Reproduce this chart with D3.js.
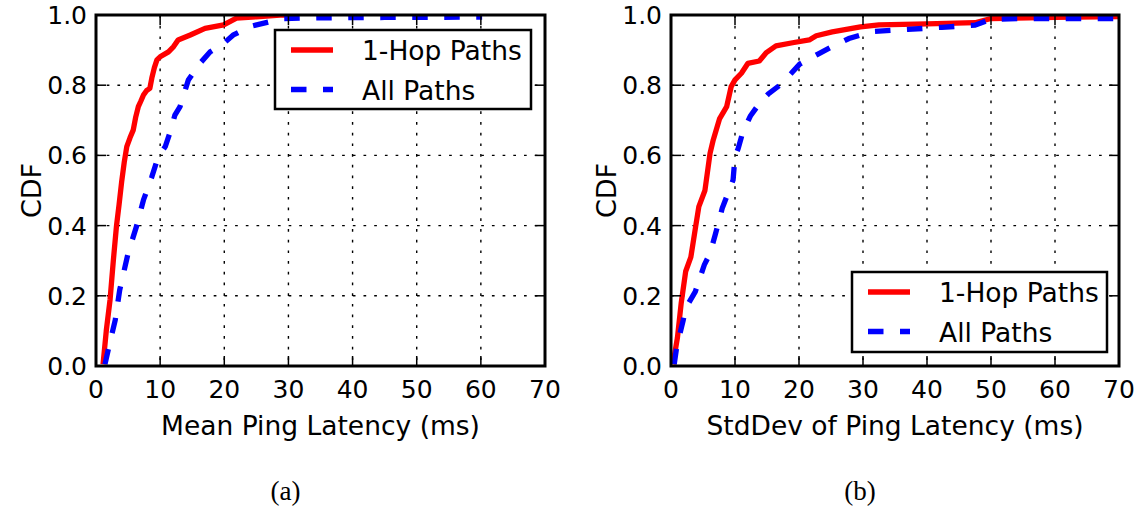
<!DOCTYPE html>
<html><head><meta charset="utf-8">
<script src="https://cdn.jsdelivr.net/npm/d3@7"></script>
<style>body{margin:0;background:#fff;} svg{display:block;}</style>
</head><body>
<svg id="c" width="1147" height="507"></svg>
<script>
// ---- data ----
const xTicks = [0, 10, 20, 30, 40, 50, 60, 70];
const yTicks = [0.0, 0.2, 0.4, 0.6, 0.8, 1.0];
const seriesNames = ["1-Hop Paths", "All Paths"];
const panelLabels = ["(a)", "(b)"];
const xLabels = ["Mean Ping Latency (ms)", "StdDev of Ping Latency (ms)"];

// (a) mean latency CDFs
const meanHopX = [1.1, 1.6, 2.2, 2.7, 3.2, 3.6, 4.0, 4.4, 4.8, 5.3, 5.8, 6.2, 6.6, 7.0, 7.4, 7.9, 8.4, 8.7, 9.1, 9.5, 10.0, 11.3, 12.1, 12.8, 14.7, 17.0, 19.9, 21.9, 25.0, 28.7, 29.5];
const meanHopY = [0.005, 0.10, 0.19, 0.30, 0.40, 0.46, 0.525, 0.58, 0.625, 0.65, 0.672, 0.71, 0.739, 0.755, 0.772, 0.785, 0.791, 0.820, 0.85, 0.872, 0.881, 0.895, 0.91, 0.929, 0.943, 0.962, 0.972, 0.991, 0.995, 1.0, 1.0];
const meanAllX = [1.4, 2.2, 3.0, 3.7, 5.0, 6.3, 7.4, 8.7, 9.7, 10.8, 11.5, 12.3, 13.1, 14.4, 16.2, 17.8, 19.9, 21.4, 24.0, 27.1, 29.2, 35.0, 45.0, 60.2];
const meanAllY = [0.005, 0.07, 0.131, 0.217, 0.321, 0.397, 0.473, 0.539, 0.596, 0.625, 0.663, 0.715, 0.739, 0.815, 0.862, 0.895, 0.919, 0.943, 0.967, 0.981, 0.99, 0.992, 0.993, 0.994];

// (b) stddev latency CDFs
const sdHopX = [0.3, 1.0, 1.6, 2.3, 3.1, 3.85, 4.35, 5.3, 6.1, 6.6, 7.6, 8.7, 9.4, 10.0, 11.0, 12.0, 13.8, 14.9, 16.4, 19.0, 21.6, 22.7, 25.2, 29.6, 32.5, 40.0, 47.5, 50.0, 60.0, 71.0];
const sdHopY = [0.005, 0.08, 0.18, 0.27, 0.31, 0.397, 0.454, 0.50, 0.606, 0.644, 0.705, 0.739, 0.796, 0.815, 0.834, 0.862, 0.869, 0.893, 0.912, 0.921, 0.929, 0.941, 0.952, 0.966, 0.972, 0.975, 0.978, 0.99, 0.993, 0.996];
const sdAllX = [0.5, 0.9, 1.9, 2.3, 3.8, 5.2, 6.1, 6.9, 8.0, 8.9, 9.7, 10.0, 10.5, 11.2, 12.4, 13.8, 15.2, 17.0, 18.8, 20.1, 22.9, 25.2, 27.8, 31.5, 37.0, 42.3, 47.5, 50.0, 55.0, 71.0];
const sdAllY = [0.005, 0.055, 0.13, 0.165, 0.212, 0.288, 0.321, 0.373, 0.449, 0.492, 0.53, 0.596, 0.62, 0.665, 0.712, 0.748, 0.775, 0.80, 0.834, 0.86, 0.888, 0.91, 0.933, 0.953, 0.959, 0.965, 0.971, 0.988, 0.99, 0.99];

const panels = [
  {left: 96, right: 545, hopX: meanHopX, hopY: meanHopY, allX: meanAllX, allY: meanAllY,
   legend: {x: 275, y: 30, w: 256, h: 79}, label: panelLabels[0], xlabel: xLabels[0]},
  {left: 671, right: 1119, hopX: sdHopX, hopY: sdHopY, allX: sdAllX, allY: sdAllY,
   legend: {x: 852, y: 272, w: 255, h: 80}, label: panelLabels[1], xlabel: xLabels[1]}
];
const plotTop = 15, plotBottom = 366;
const RED = "#ff0000", BLUE = "#0000ff";
const font = "'DejaVu Sans', sans-serif";
const DASH = "15.5,16.5";

const svg = d3.select("#c");

panels.forEach((p, i) => {
  const x = d3.scaleLinear().domain([0, 70]).range([p.left, p.right]);
  const y = d3.scaleLinear().domain([0, 1]).range([plotBottom, plotTop]);
  const g = svg.append("g");

  const clipId = "clip" + i;
  svg.append("clipPath").attr("id", clipId).append("rect")
    .attr("x", p.left).attr("y", plotTop).attr("width", p.right - p.left).attr("height", plotBottom - plotTop);

  // grid
  g.selectAll(".vg").data(xTicks.slice(1, -1)).join("line")
    .attr("x1", d => x(d)).attr("x2", d => x(d)).attr("y1", plotTop).attr("y2", plotBottom)
    .attr("stroke", "#000").attr("stroke-width", 1.4).attr("stroke-dasharray", "2.7,8");
  g.selectAll(".hg").data(yTicks.slice(1, -1)).join("line")
    .attr("y1", d => y(d)).attr("y2", d => y(d)).attr("x1", p.left).attr("x2", p.right)
    .attr("stroke", "#000").attr("stroke-width", 1.4).attr("stroke-dasharray", "2.7,8");

  const line = d3.line().x(d => x(d[0])).y(d => y(d[1]));
  const hop = d3.zip(p.hopX, p.hopY);
  const all = d3.zip(p.allX, p.allY);
  const lg = g.append("g").attr("clip-path", `url(#${clipId})`);
  lg.append("path").attr("d", line(hop)).attr("fill", "none")
    .attr("stroke", RED).attr("stroke-width", 5.3).attr("stroke-linejoin", "round");
  lg.append("path").attr("d", line(all)).attr("fill", "none")
    .attr("stroke", BLUE).attr("stroke-width", 5.3).attr("stroke-dasharray", DASH);

  // ticks inward on all four sides
  const tl = 10;
  xTicks.forEach(t => {
    g.append("line").attr("x1", x(t)).attr("x2", x(t)).attr("y1", plotBottom).attr("y2", plotBottom - tl)
      .attr("stroke", "#000").attr("stroke-width", 1.5);
    g.append("line").attr("x1", x(t)).attr("x2", x(t)).attr("y1", plotTop).attr("y2", plotTop + tl)
      .attr("stroke", "#000").attr("stroke-width", 1.5);
  });
  yTicks.forEach(t => {
    g.append("line").attr("x1", p.left).attr("x2", p.left + tl).attr("y1", y(t)).attr("y2", y(t))
      .attr("stroke", "#000").attr("stroke-width", 1.5);
    g.append("line").attr("x1", p.right).attr("x2", p.right - tl).attr("y1", y(t)).attr("y2", y(t))
      .attr("stroke", "#000").attr("stroke-width", 1.5);
  });

  // frame
  g.append("rect").attr("x", p.left).attr("y", plotTop).attr("width", p.right - p.left).attr("height", plotBottom - plotTop)
    .attr("fill", "none").attr("stroke", "#000").attr("stroke-width", 3);

  // tick labels
  g.selectAll(".xt").data(xTicks).join("text")
    .attr("x", d => x(d)).attr("y", 398).attr("text-anchor", "middle")
    .attr("font-family", font).attr("font-size", 25).text(d => d3.format("d")(d));
  g.selectAll(".yt").data(yTicks).join("text")
    .attr("x", p.left - 9).attr("y", d => y(d) + 9).attr("text-anchor", "end")
    .attr("font-family", font).attr("font-size", 25).text(d => d3.format(".1f")(d));

  // axis labels
  g.append("text").attr("x", (p.left + p.right) / 2).attr("y", 435).attr("text-anchor", "middle")
    .attr("font-family", font).attr("font-size", 26.5).text(p.xlabel);
  g.append("text").attr("transform", `translate(${p.left - 55},${(plotTop + plotBottom) / 2}) rotate(-90)`)
    .attr("text-anchor", "middle").attr("font-family", font).attr("font-size", 27).text("CDF");

  // panel label
  g.append("text").attr("x", (p.left + p.right) / 2 - 35).attr("y", 500).attr("text-anchor", "middle")
    .attr("font-family", "'Liberation Serif', serif").attr("font-size", 27).text(p.label);

  // legend
  const L = p.legend;
  const leg = g.append("g");
  leg.append("rect").attr("x", L.x).attr("y", L.y).attr("width", L.w).attr("height", L.h)
    .attr("fill", "#fff").attr("stroke", "#000").attr("stroke-width", 2.5);
  const rows = [{name: seriesNames[0], color: RED, dash: null},
                {name: seriesNames[1], color: BLUE, dash: DASH}];
  rows.forEach((r, k) => {
    const cy = L.y + 20 + k * 39.5;
    leg.append("line").attr("x1", L.x + 16).attr("x2", L.x + 58).attr("y1", cy).attr("y2", cy)
      .attr("stroke", r.color).attr("stroke-width", 5.3).attr("stroke-dasharray", r.dash);
    leg.append("text").attr("x", L.x + 87).attr("y", cy + 10)
      .attr("font-family", font).attr("font-size", 26.5).text(r.name);
  });
});
</script>
</body></html>
